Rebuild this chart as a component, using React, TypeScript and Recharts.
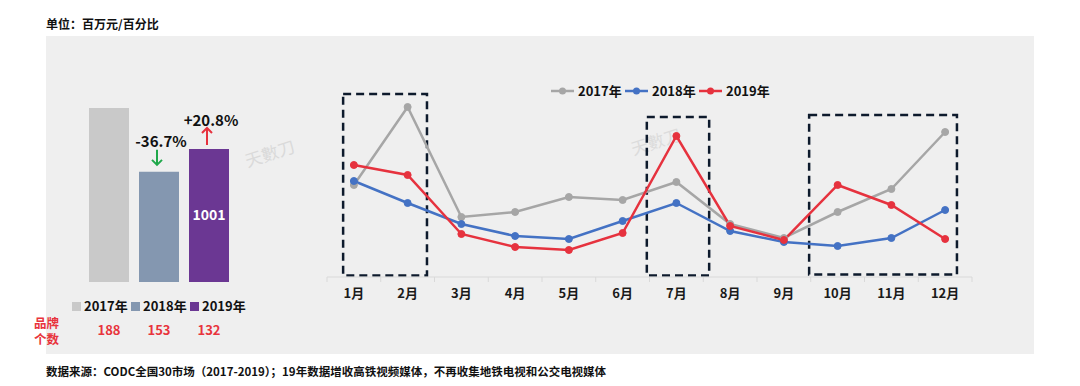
import React from 'react';
import { BarChart, Bar, XAxis, YAxis, LineChart, Line, ReferenceArea, LabelList } from 'recharts';

const FONT = "'Noto Sans CJK SC', 'Noto Sans', sans-serif";

// ---- Left: yearly totals ----
const yearNames = ['2017年', '2018年', '2019年'];
const yearKeys = ['y2017', 'y2018', 'y2019'];
const yearColors = ['#c9c9c9', '#8497b0', '#6b3793'];
const yearlyTotals = [1309, 829, 1001];
const brandCounts = [188, 153, 132];
const yearChanges = ['', '-36.7%', '+20.8%'];
const brandLabelLines = ['品牌', '个数'];

// ---- Right: monthly trend ----
const months = ['1月', '2月', '3月', '4月', '5月', '6月', '7月', '8月', '9月', '10月', '11月', '12月'];
const series2017 = [92, 170, 60, 65, 80, 77, 95, 53, 39, 65, 88, 145];
const series2018 = [96, 74, 53, 41, 38, 56, 74, 46, 35, 31, 39, 67];
const series2019 = [112, 102, 43, 30, 27, 44, 141, 51, 37, 92, 72, 38];
const lineNames = ['2017年', '2018年', '2019年'];
const lineKeys = ['s2017', 's2018', 's2019'];
const lineColors = ['#a6a6a6', '#4472c4', '#e6323e'];

const highlightBoxes = [
  { x1: 0.8, x2: 2.36, y1: 1.5, y2: 183 },
  { x1: 6.45, x2: 7.61, y1: 1.5, y2: 160 },
  { x1: 9.47, x2: 12.22, y1: 2.5, y2: 162 },
];

const barData = [
  yearKeys.reduce((o: any, k, i) => { o[k] = yearlyTotals[i]; return o; }, { name: 'total' }),
];

const lineData = months.map((m, i) => ({
  idx: i + 1,
  month: m,
  s2017: series2017[i],
  s2018: series2018[i],
  s2019: series2019[i],
}));

const halfTicks: number[] = [];
for (let v = 0.5; v <= 12.5; v += 0.5) halfTicks.push(v);

const MonthTick = (props: any) => {
  const { x, y, payload } = props;
  const v = payload.value;
  if (Number.isInteger(v)) {
    return (
      <text x={x} y={y + 21} textAnchor="middle" fontFamily={FONT} fontSize={13} fontWeight={700} fill="#1a1a1a">
        {months[v - 1]}
      </text>
    );
  }
  return <line x1={x} x2={x} y1={y} y2={y + 5} stroke="#d9d9d9" strokeWidth={1} />;
};

const changeLabel = (idx: number) => (props: any) => {
  const { x, y, width } = props;
  const txt = yearChanges[idx];
  if (!txt) return null;
  const cx = x + width / 2;
  const up = txt.startsWith('+');
  const color = up ? '#e6323e' : '#1fa84a';
  const top = up ? y - 21 : y - 22;
  const bottom = up ? y - 4 : y - 7;
  return (
    <g>
      <text x={cx + 2} y={y - (up ? 23 : 25)} textAnchor="middle" fontFamily={FONT} fontSize={15} fontWeight={700} fill="#111">
        {txt}
      </text>
      <line x1={cx - 2} x2={cx - 2} y1={top} y2={bottom} stroke={color} strokeWidth={2} />
      {up ? (
        <polyline points={`${cx - 7},${top + 5} ${cx - 2},${top} ${cx + 3},${top + 5}`} fill="none" stroke={color} strokeWidth={2} />
      ) : (
        <polyline points={`${cx - 7},${bottom - 5} ${cx - 2},${bottom} ${cx + 3},${bottom - 5}`} fill="none" stroke={color} strokeWidth={2} />
      )}
    </g>
  );
};

export default function App() {
  return (
    <div style={{ position: 'absolute', left: 0, top: 0, width: 1080, height: 386, background: '#ffffff', fontFamily: FONT, overflow: 'hidden' }}>
      <div style={{ position: 'absolute', left: 46, top: 36, width: 988, height: 318, background: '#efefef' }} />
      <div style={{ position: 'absolute', left: 46, top: 15, fontSize: 12, fontWeight: 700, color: '#111', lineHeight: '18px' }}>
        单位：百万元/百分比
      </div>

      {/* watermarks */}
      <div style={{ position: 'absolute', left: 244, top: 140, fontSize: 17, color: '#dadada', transform: 'rotate(-18deg)' }}>天數刀</div>
      <div style={{ position: 'absolute', left: 630, top: 128, fontSize: 17, color: '#dcdcdc', transform: 'rotate(-18deg)' }}>天數刀</div>

      {/* left bar chart */}
      <div style={{ position: 'absolute', left: 0, top: 60 }}>
        <BarChart width={300} height={260} data={barData} margin={{ top: 36, right: 41, bottom: 38, left: 59 }} barSize={40} barGap={10}>
          <XAxis dataKey="name" hide />
          <YAxis hide domain={[0, 1400]} />
          {yearKeys.map((k, i) => (
            <Bar key={k} dataKey={k} fill={yearColors[i]} isAnimationActive={false}>
              <LabelList content={changeLabel(i)} />
              {i === 2 ? (
                <LabelList dataKey={k} position="center" fill="#ffffff" fontSize={14} fontWeight={600} fontFamily={FONT} />
              ) : null}
            </Bar>
          ))}
        </BarChart>
      </div>

      {/* bar legend */}
      <div style={{ position: 'absolute', left: 72, top: 297, display: 'flex' }}>
        {yearNames.map((n, i) => (
          <div key={n} style={{ display: 'flex', alignItems: 'center', width: 59, whiteSpace: 'nowrap' }}>
            <div style={{ width: 9, height: 9, background: yearColors[i], marginRight: 3, flexShrink: 0 }} />
            <span style={{ fontSize: 13, fontWeight: 700, color: '#111', lineHeight: '18px' }}>{n}</span>
          </div>
        ))}
      </div>

      {/* brand counts */}
      {brandLabelLines.map((t, i) => (
        <div key={t} style={{ position: 'absolute', left: 34, top: 315 + i * 16, fontSize: 12.5, fontWeight: 700, color: '#e8343c', lineHeight: '15px', whiteSpace: 'nowrap' }}>
          {t}
        </div>
      ))}
      {brandCounts.map((c, i) => (
        <div key={i} style={{ position: 'absolute', left: 109 + i * 50 - 20, width: 40, textAlign: 'center', top: 321, fontSize: 13, fontWeight: 700, color: '#e8343c', lineHeight: '18px' }}>
          {c}
        </div>
      ))}

      {/* line legend */}
      <div style={{ position: 'absolute', left: 551, top: 82, display: 'flex' }}>
        {lineNames.map((n, i) => (
          <div key={n} style={{ display: 'flex', alignItems: 'center', width: 74, whiteSpace: 'nowrap' }}>
            <svg width={23} height={10} style={{ marginRight: 4, flexShrink: 0 }}>
              <line x1={0} x2={23} y1={5} y2={5} stroke={lineColors[i]} strokeWidth={2.5} />
              <circle cx={11.5} cy={5} r={3.5} fill={lineColors[i]} />
            </svg>
            <span style={{ fontSize: 13, fontWeight: 700, color: '#111', lineHeight: '18px' }}>{n}</span>
          </div>
        ))}
      </div>

      {/* right line chart */}
      <div style={{ position: 'absolute', left: 300, top: 60 }}>
        <LineChart width={700} height={260} data={lineData} margin={{ top: 17, right: 28, bottom: 13, left: 27 }}>
          <XAxis
            dataKey="idx"
            type="number"
            domain={[0.5, 12.5]}
            ticks={halfTicks}
            interval={0}
            tickSize={0}
            tickMargin={0}
            tickLine={false}
            axisLine={{ stroke: '#d9d9d9' }}
            tick={<MonthTick />}
            height={30}
            allowDataOverflow
          />
          <YAxis hide domain={[0, 200]} />
          {lineKeys.map((k, i) => (
            <Line
              key={k}
              dataKey={k}
              stroke={lineColors[i]}
              strokeWidth={2.5}
              dot={{ r: 3.5, fill: lineColors[i], stroke: lineColors[i], strokeWidth: 1 }}
              isAnimationActive={false}
            />
          ))}
          {highlightBoxes.map((b, i) => (
            <ReferenceArea
              key={i}
              x1={b.x1}
              x2={b.x2}
              y1={b.y1}
              y2={b.y2}
              fill="none"
              fillOpacity={0}
              stroke="#0d1a2c"
              strokeWidth={2.5}
              strokeDasharray="8 5"
              ifOverflow="visible"
            />
          ))}
        </LineChart>
      </div>

      <div style={{ position: 'absolute', left: 46, top: 362, fontSize: 11.5, fontWeight: 700, color: '#111', lineHeight: '18px', whiteSpace: 'nowrap' }}>
        数据来源：CODC全国30市场（2017-2019）；19年数据增收高铁视频媒体，不再收集地铁电视和公交电视媒体
      </div>
    </div>
  );
}
